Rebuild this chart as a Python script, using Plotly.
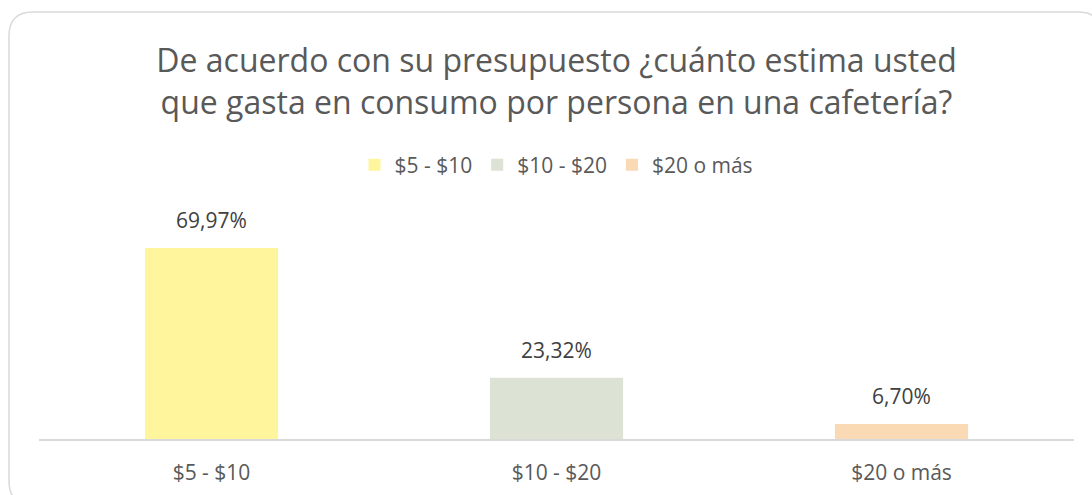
import plotly.graph_objects as go

categories = ["$5 - $10", "$10 - $20", "$20 o más"]
values = [69.97, 23.32, 6.70]
labels = ["69,97%", "23,32%", "6,70%"]
colors = ["#FFF59D", "#DCE2D4", "#FAD9B5"]

W, H = 1092, 495
ML, MR, MT, MB = 39, 18, 200, 56
pw, ph = W - ML - MR, H - MT - MB


def px_x(x):
    return (x - ML) / pw


def px_y(y):
    return (H - MB - y) / ph


FONT = "Open Sans"

fig = go.Figure()

for cat, val, col in zip(categories, values, colors):
    fig.add_trace(
        go.Bar(
            x=[cat],
            y=[val],
            name=cat,
            marker=dict(color=col, line=dict(width=0)),
            width=0.386,
            hoverinfo="skip",
        )
    )

# data labels above the bars
for cat, val, lab in zip(categories, values, labels):
    fig.add_annotation(
        x=cat, y=val, text=lab, showarrow=False,
        yanchor="bottom", yshift=12,
        font=dict(family=FONT, size=21, color="#404040"),
    )

# rounded border around the chart
x0, x1 = px_x(9), px_x(1102)
y0, y1 = px_y(505), px_y(12)
rx, ry = 24 / pw, 24 / ph
path = (
    f"M {x0 + rx},{y1} L {x1 - rx},{y1} Q {x1},{y1} {x1},{y1 - ry} "
    f"L {x1},{y0 + ry} Q {x1},{y0} {x1 - rx},{y0} "
    f"L {x0 + rx},{y0} Q {x0},{y0} {x0},{y0 + ry} "
    f"L {x0},{y1 - ry} Q {x0},{y1} {x0 + rx},{y1} Z"
)
fig.add_shape(type="path", path=path, xref="paper", yref="paper",
              line=dict(color="#D9D9D9", width=1.5), layer="below")

fig.update_layout(
    width=W, height=H,
    margin=dict(l=ML, r=MR, t=MT, b=MB, autoexpand=False),
    paper_bgcolor="white", plot_bgcolor="white",
    title=dict(
        text="De acuerdo con su presupuesto ¿cuánto estima usted<br>"
             "que gasta en consumo por persona en una cafetería?",
        xref="paper", x=0.5, xanchor="center",
        yref="container", y=1 - 72 / H, yanchor="middle",
        font=dict(family=FONT, size=32, color="#595959"),
    ),
    legend=dict(
        orientation="h", x=0.5, xanchor="center", y=px_y(165), yanchor="middle",
        font=dict(family=FONT, size=21, color="#595959"),
        itemwidth=30, traceorder="normal",
    ),
    showlegend=True,
)
fig.update_xaxes(
    showline=True, linecolor="#D9D9D9", linewidth=1.5,
    ticks="", ticklabelstandoff=14, automargin=False,
    tickfont=dict(family=FONT, size=21, color="#595959"),
)
fig.update_yaxes(visible=False, range=[1.3, 1.3 + ph / 2.78])

fig.write_html(
    "out.html",
    config={"displayModeBar": False},
    post_script="document.body.style.margin = '0';",
)
